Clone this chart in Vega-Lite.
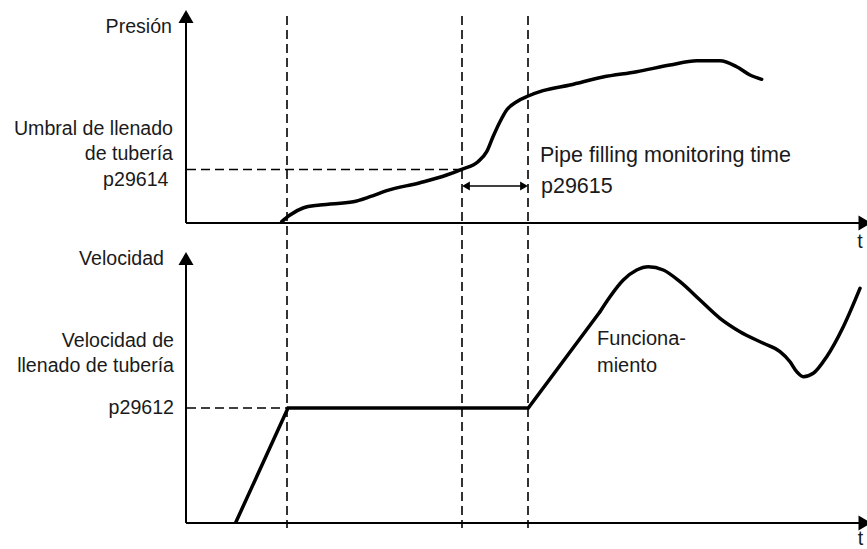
{
  "$schema": "https://vega.github.io/schema/vega-lite/v6.json",
  "width": 867,
  "height": 549,
  "autosize": {"type": "none"},
  "padding": 0,
  "background": "white",
  "config": {"view": {"stroke": null}},
  "datasets": {
    "axes": [
      {"x": 186, "y": 223, "x2": 186, "y2": 22},
      {"x": 186, "y": 223, "x2": 860, "y2": 223},
      {"x": 186, "y": 523, "x2": 186, "y2": 264},
      {"x": 186, "y": 523, "x2": 860, "y2": 523}
    ],
    "guides": [
      {"x": 287, "y": 16, "x2": 287, "y2": 528},
      {"x": 462, "y": 16, "x2": 462, "y2": 528},
      {"x": 528, "y": 16, "x2": 528, "y2": 528},
      {"x": 187, "y": 169.5, "x2": 462, "y2": 169.5},
      {"x": 187, "y": 408, "x2": 289, "y2": 408}
    ],
    "span": [
      {"x": 466, "y": 186, "x2": 524, "y2": 186}
    ],
    "bigheads": [
      {"x": 186, "y": 16.5, "dir": "up"},
      {"x": 186, "y": 258.5, "dir": "up"},
      {"x": 865, "y": 223, "dir": "right"},
      {"x": 865, "y": 523, "dir": "right"}
    ],
    "smallheads": [
      {"x": 466, "y": 186, "dir": "left"},
      {"x": 524, "y": 186, "dir": "right"}
    ],
    "pressure": [
      {"t": 281.7, "p": 221.7}, {"t": 290, "p": 215}, {"t": 303, "p": 208},
      {"t": 320, "p": 205}, {"t": 353.3, "p": 201.7}, {"t": 370, "p": 196.7},
      {"t": 386.7, "p": 190.7}, {"t": 420, "p": 182.7}, {"t": 446.7, "p": 175},
      {"t": 461.7, "p": 169.3}, {"t": 478, "p": 161.7}, {"t": 486.7, "p": 151.7},
      {"t": 493, "p": 136.7}, {"t": 500, "p": 121.7}, {"t": 506.7, "p": 110},
      {"t": 516.7, "p": 101.7}, {"t": 528.3, "p": 96}, {"t": 543, "p": 90.7},
      {"t": 570, "p": 85}, {"t": 603, "p": 77}, {"t": 636.7, "p": 71.7},
      {"t": 670, "p": 65}, {"t": 696.7, "p": 60.7}, {"t": 720, "p": 60.7},
      {"t": 736.7, "p": 66.7}, {"t": 750, "p": 75}, {"t": 761.7, "p": 79.3}
    ],
    "speed_ramp": [
      {"t": 235.5, "v": 523}, {"t": 288, "v": 408}, {"t": 528.3, "v": 408},
      {"t": 600, "v": 311.7}
    ],
    "speed_run": [
      {"t": 600, "v": 311.7}, {"t": 610, "v": 296.7}, {"t": 623.3, "v": 280},
      {"t": 636.7, "v": 270}, {"t": 648.3, "v": 266.7}, {"t": 663.3, "v": 270},
      {"t": 680, "v": 281.7}, {"t": 700, "v": 300}, {"t": 720, "v": 318.3},
      {"t": 740, "v": 331.7}, {"t": 763.3, "v": 343.3}, {"t": 780, "v": 351.7},
      {"t": 790, "v": 361.7}, {"t": 796.7, "v": 371.7}, {"t": 803.3, "v": 376.7},
      {"t": 813.3, "v": 373.3}, {"t": 826.7, "v": 356.7}, {"t": 843.3, "v": 326.7},
      {"t": 860, "v": 288.3}
    ],
    "left_labels": [
      {"x": 172, "y": 32.5, "text": "Presión"},
      {"x": 173, "y": 135, "text": "Umbral de llenado"},
      {"x": 173, "y": 159.5, "text": "de tubería"},
      {"x": 168.5, "y": 185.5, "text": "p29614"},
      {"x": 164, "y": 265, "text": "Velocidad"},
      {"x": 174, "y": 346.5, "text": "Velocidad de"},
      {"x": 174, "y": 371.5, "text": "llenado de tubería"},
      {"x": 174, "y": 414, "text": "p29612"}
    ],
    "pipe_labels": [
      {"x": 540, "y": 162, "text": "Pipe filling monitoring time"},
      {"x": 541, "y": 192.5, "text": "p29615"}
    ],
    "run_labels": [
      {"x": 597, "y": 345, "text": "Funciona-"},
      {"x": 597, "y": 371.5, "text": "miento"}
    ],
    "t_labels": [
      {"x": 860, "y": 248, "text": "t"},
      {"x": 860.5, "y": 545, "text": "t"}
    ]
  },
  "layer": [
    {
      "data": {"name": "guides"},
      "mark": {"type": "rule", "color": "black", "strokeWidth": 1.6, "strokeDash": [9, 5]},
      "encoding": {
        "x": {"field": "x", "type": "quantitative", "scale": {"domain": [0, 867], "nice": false, "zero": false}, "axis": null},
        "y": {"field": "y", "type": "quantitative", "scale": {"domain": [0, 549], "nice": false, "zero": false, "reverse": true}, "axis": null},
        "x2": {"field": "x2"},
        "y2": {"field": "y2"}
      }
    },
    {
      "data": {"name": "axes"},
      "mark": {"type": "rule", "color": "black", "strokeWidth": 2},
      "encoding": {
        "x": {"field": "x", "type": "quantitative"},
        "y": {"field": "y", "type": "quantitative"},
        "x2": {"field": "x2"},
        "y2": {"field": "y2"}
      }
    },
    {
      "data": {"name": "span"},
      "mark": {"type": "rule", "color": "black", "strokeWidth": 1.5},
      "encoding": {
        "x": {"field": "x", "type": "quantitative"},
        "y": {"field": "y", "type": "quantitative"},
        "x2": {"field": "x2"},
        "y2": {"field": "y2"}
      }
    },
    {
      "data": {"name": "bigheads"},
      "mark": {"type": "point", "filled": true, "color": "black", "opacity": 1, "size": 225, "strokeWidth": 0},
      "encoding": {
        "x": {"field": "x", "type": "quantitative"},
        "y": {"field": "y", "type": "quantitative"},
        "shape": {"field": "dir", "type": "nominal", "scale": {"domain": ["up", "right", "left"], "range": ["triangle-up", "triangle-right", "triangle-left"]}, "legend": null}
      }
    },
    {
      "data": {"name": "smallheads"},
      "mark": {"type": "point", "filled": true, "color": "black", "opacity": 1, "size": 81, "strokeWidth": 0},
      "encoding": {
        "x": {"field": "x", "type": "quantitative"},
        "y": {"field": "y", "type": "quantitative"},
        "shape": {"field": "dir", "type": "nominal", "legend": null}
      }
    },
    {
      "data": {"name": "pressure"},
      "mark": {"type": "line", "color": "black", "strokeWidth": 3.5, "interpolate": "monotone", "strokeCap": "round"},
      "encoding": {
        "x": {"field": "t", "type": "quantitative"},
        "y": {"field": "p", "type": "quantitative"}
      }
    },
    {
      "data": {"name": "speed_ramp"},
      "mark": {"type": "line", "color": "black", "strokeWidth": 3.5, "interpolate": "linear", "strokeJoin": "miter"},
      "encoding": {
        "x": {"field": "t", "type": "quantitative"},
        "y": {"field": "v", "type": "quantitative"}
      }
    },
    {
      "data": {"name": "speed_run"},
      "mark": {"type": "line", "color": "black", "strokeWidth": 3.5, "interpolate": "monotone", "strokeCap": "round"},
      "encoding": {
        "x": {"field": "t", "type": "quantitative"},
        "y": {"field": "v", "type": "quantitative"}
      }
    },
    {
      "data": {"name": "left_labels"},
      "mark": {"type": "text", "align": "right", "baseline": "alphabetic", "font": "Liberation Sans", "fontSize": 19.6, "color": "#1a1a1a"},
      "encoding": {
        "x": {"field": "x", "type": "quantitative"},
        "y": {"field": "y", "type": "quantitative"},
        "text": {"field": "text"}
      }
    },
    {
      "data": {"name": "pipe_labels"},
      "mark": {"type": "text", "align": "left", "baseline": "alphabetic", "font": "Liberation Sans", "fontSize": 21.5, "color": "#1a1a1a"},
      "encoding": {
        "x": {"field": "x", "type": "quantitative"},
        "y": {"field": "y", "type": "quantitative"},
        "text": {"field": "text"}
      }
    },
    {
      "data": {"name": "run_labels"},
      "mark": {"type": "text", "align": "left", "baseline": "alphabetic", "font": "Liberation Sans", "fontSize": 20, "color": "#1a1a1a"},
      "encoding": {
        "x": {"field": "x", "type": "quantitative"},
        "y": {"field": "y", "type": "quantitative"},
        "text": {"field": "text"}
      }
    },
    {
      "data": {"name": "t_labels"},
      "mark": {"type": "text", "align": "center", "baseline": "alphabetic", "font": "Liberation Sans", "fontSize": 19.6, "color": "#1a1a1a"},
      "encoding": {
        "x": {"field": "x", "type": "quantitative"},
        "y": {"field": "y", "type": "quantitative"},
        "text": {"field": "text"}
      }
    }
  ]
}
